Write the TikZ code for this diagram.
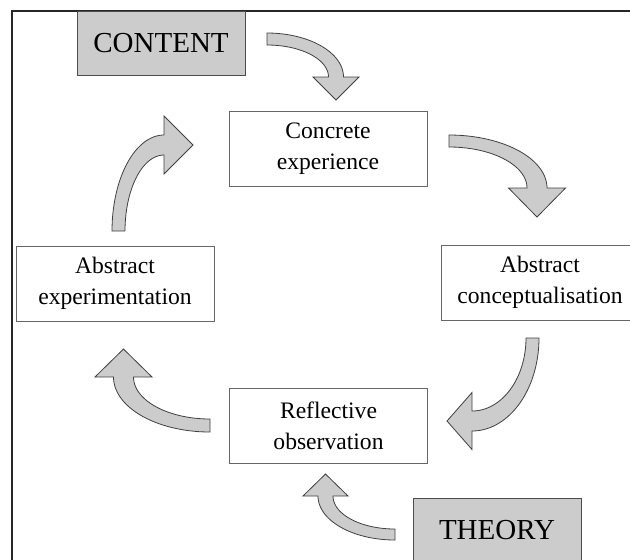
\documentclass[tikz,border=0pt]{standalone}
\usepackage{fontspec}
\setmainfont{Liberation Serif}

\tikzset{
  stage/.style={draw=black!60, line width=0.5pt, fill=white, minimum width=99pt, minimum height=37.5pt,
    inner sep=0pt, align=center, font=\fontsize{11.8}{15.5}\selectfont},
  source/.style={draw=black!70, line width=0.5pt, fill=black!20, minimum width=84pt, minimum height=32pt,
    inner sep=0pt, font=\fontsize{14.5}{17}\selectfont},
  bent/.style={draw=black!75, line width=0.4pt, fill=black!20, line join=miter},
  frame/.style={draw=black!85, line width=0.75pt}
}

% quarter bent block arrow:
% {cx}{cy}{outer rx}{outer ry}{inner rx}{inner ry}{start angle}{head half width}{head length}
\newcommand{\bentarrow}[9]{%
  \pgfmathsetmacro{\bentEnd}{#7+90}
  \pgfmathsetmacro{\bentMx}{(#3+#5)/2}
  \pgfmathsetmacro{\bentMy}{(#4+#6)/2}
  \pgfmathsetmacro{\bentUx}{cos(\bentEnd)}
  \pgfmathsetmacro{\bentUy}{sin(\bentEnd)}
  \pgfmathsetmacro{\bentBx}{#1+\bentMx*\bentUx}
  \pgfmathsetmacro{\bentBy}{#2+\bentMy*\bentUy}
  \filldraw[bent] plot[domain=#7:\bentEnd, samples=40] ({#1+#3*cos(\x)},{#2+#4*sin(\x)})
    -- ({\bentBx+#8*\bentUx},{\bentBy+#8*\bentUy})
    -- ({\bentBx-#9*\bentUy},{\bentBy+#9*\bentUx})
    -- ({\bentBx-#8*\bentUx},{\bentBy-#8*\bentUy})
    -- plot[domain=\bentEnd:#7, samples=40] ({#1+#5*cos(\x)},{#2+#6*sin(\x)})
    -- cycle;
}

\begin{document}
\begin{tikzpicture}[x=0.5pt, y=-0.5pt]
  \clip (0,0) rectangle (630,559);
  % outer frame
  \draw[frame] (12,11) rectangle (660,590);

  % inputs
  \node[source] (content) at (161,43) {CONTENT};
  \node[source] (theory) at (497,530) {THEORY};

  % cycle stages
  \node[stage] (concrete) at (328,149) {Concrete\\experience};
  \node[stage] (conceptual) at (540,282.5) {Abstract\\conceptualisation};
  \node[stage] (reflective) at (328.5,425.5) {Reflective\\observation};
  \node[stage] (experiment) at (115,283.5) {Abstract\\experimentation};

  % bent arrows
  \bentarrow{267}{77}{76.5}{44}{61.5}{32}{-90}{23}{23}
  \bentarrow{449}{188}{98}{53}{78}{41}{-90}{28.5}{29}
  \bentarrow{472}{338}{67}{93}{54}{73}{0}{28.5}{25}
  \bentarrow{210}{377}{96.5}{55}{76.5}{42}{90}{28.5}{28}
  \bentarrow{164}{231}{52}{96}{39}{76}{180}{29}{29}
  \bentarrow{395}{496}{77}{44}{62}{33}{90}{22.5}{22}
\end{tikzpicture}
\end{document}
